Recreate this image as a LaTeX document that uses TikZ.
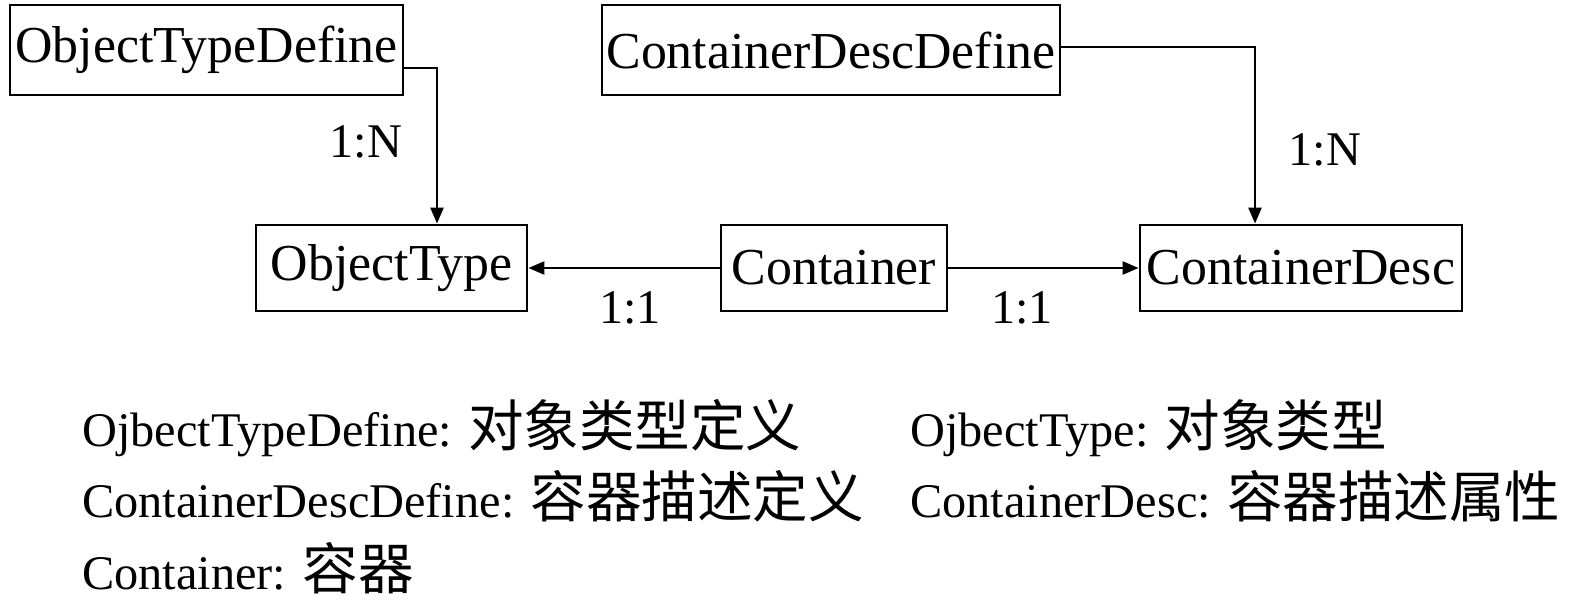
\documentclass[tikz,border=0pt]{standalone}
\usepackage{fontspec}
\setmainfont{Liberation Serif}
\newfontfamily\cjk{Noto Sans CJK SC}[Scale=1.15]
\usepackage{tikz}
\usetikzlibrary{arrows.meta}

\begin{document}
\begin{tikzpicture}[
		box/.style={draw,line width=1.6pt,inner sep=0pt,font=\fontsize{29.5}{34}\selectfont},
		lbl/.style={font=\fontsize{27.5}{32}\selectfont},
		legend/.style={anchor=west,inner sep=0pt,font=\fontsize{27.5}{32}\selectfont},
		>={Triangle[length=0.32cm,width=0.26cm]}
	]
		\useasboundingbox (0,0) rectangle (31.5,-12.2);
		% entity boxes
		\node[box,minimum width=7.86cm,minimum height=1.8cm] (otd) at (4.13,-1.0) {ObjectTypeDefine};
		\node[box,minimum width=9.16cm,minimum height=1.8cm] (cdd) at (16.62,-1.0) {ContainerDescDefine};
		\node[box,minimum width=5.42cm,minimum height=1.72cm] (ot) at (7.83,-5.36) {ObjectType};
		\node[box,minimum width=4.52cm,minimum height=1.72cm] (ct) at (16.68,-5.36) {Container};
		\node[box,minimum width=6.44cm,minimum height=1.72cm] (cd) at (26.02,-5.36) {ContainerDesc};
		% relations
		\draw[->,line width=1.4pt] ([yshift=-0.36cm]otd.east) -| ([xshift=0.91cm]ot.north);
		\draw[->,line width=1.4pt] ([yshift=0.06cm]cdd.east) -| ([xshift=-0.92cm]cd.north);
		\draw[->,line width=1.4pt] (ct) -- (ot);
		\draw[->,line width=1.4pt] (ct) -- (cd);
		\node[lbl] (n1) at (7.32,-2.84) {1:N};
		\node[lbl] (n2) at (26.5,-3.0) {1:N};
		\node[lbl] (o1) at (12.6,-6.16) {1:1};
		\node[lbl] (o2) at (20.44,-6.16) {1:1};
		% legend
		\node[legend] (l1) at (1.64,-8.56) {OjbectTypeDefine: {\cjk 对象类型定义}};
		\node[legend] (l2) at (18.2,-8.56) {OjbectType: {\cjk 对象类型}};
		\node[legend] (l3) at (1.64,-9.92) {ContainerDescDefine: {\cjk 容器描述定义}};
		\node[legend] (l4) at (18.2,-9.92) {ContainerDesc: {\cjk 容器描述属性}};
		\node[legend] (l5) at (1.64,-11.36) {Container: {\cjk 容器}};
	\end{tikzpicture}
\end{document}
